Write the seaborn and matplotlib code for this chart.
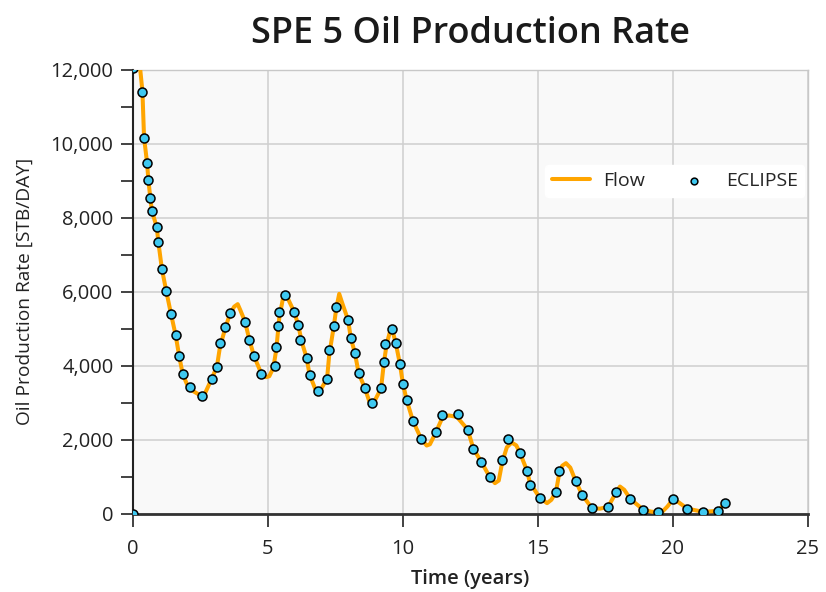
import matplotlib
matplotlib.use("Agg")
import matplotlib.pyplot as plt
import matplotlib.ticker as mticker
import seaborn as sns
import pandas as pd

# ECLIPSE reference points (time in years, oil rate in STB/DAY)
eclipse_t = [0.0, 0.01, 0.35, 0.41, 0.52, 0.57, 0.64, 0.70, 0.88, 0.94, 1.07, 1.23,
             1.41, 1.58, 1.71, 1.84, 2.10, 2.57, 2.91, 3.11, 3.22, 3.41, 3.59, 4.15,
             4.31, 4.48, 4.76, 5.26, 5.31, 5.38, 5.42, 5.63, 5.97, 6.12, 6.19, 6.43,
             6.54, 6.84, 7.19, 7.27, 7.44, 7.53, 7.97, 8.07, 8.22, 8.36, 8.59, 8.84,
             9.19, 9.29, 9.34, 9.59, 9.73, 9.89, 10.0, 10.14, 10.37, 10.67, 11.22, 11.46,
             12.05, 12.40, 12.61, 12.91, 13.22, 13.68, 13.88, 14.34, 14.60, 14.70, 15.06,
             15.67, 15.78, 16.40, 16.64, 17.0, 17.6, 17.91, 18.43, 18.9, 19.46, 20.01,
             20.53, 21.12, 21.68, 21.93]
eclipse_rate = [0, 12050, 11415, 10171, 9496, 9028, 8550, 8190, 7750, 7344, 6622, 6030,
                5398, 4830, 4271, 3784, 3433, 3190, 3641, 3982, 4630, 5063, 5433, 5198,
                4711, 4271, 3784, 3990, 4510, 5070, 5460, 5911, 5460, 5117, 4703, 4225,
                3766, 3316, 3657, 4424, 5073, 5603, 5235, 4749, 4352, 3803, 3397, 2990,
                3390, 4115, 4600, 4992, 4631, 4046, 3514, 3073, 2514, 2036, 2225, 2676,
                2711, 2279, 1760, 1397, 992, 1468, 2036, 1641, 1162, 792, 441,
                595, 1162, 884, 514, 154, 189, 595, 397, 116, 54, 397,
                143, 54, 81, 289]

# Flow simulator curve
flow_t = [0.20, 0.27, 0.35, 0.41, 0.52, 0.57, 0.64, 0.70, 0.88, 0.94, 1.07, 1.23,
          1.41, 1.58, 1.71, 1.84, 2.0, 2.2, 2.5, 2.65, 2.91, 3.11, 3.22, 3.41, 3.59,
          3.75, 3.88, 3.98, 4.15, 4.31, 4.48, 4.76, 4.93, 5.05, 5.2, 5.31, 5.42, 5.55,
          5.63, 5.75, 5.97, 6.12, 6.25, 6.43, 6.54, 6.75, 6.84, 6.95, 7.19, 7.27, 7.44,
          7.53, 7.64, 7.75, 7.97, 8.07, 8.22, 8.36, 8.59, 8.75, 8.84, 8.95, 9.19, 9.29,
          9.4, 9.55, 9.65, 9.73, 9.89, 10.0, 10.14, 10.37, 10.67, 10.88, 11.0, 11.22,
          11.46, 11.7, 12.0, 12.40, 12.61, 12.91, 13.22, 13.41, 13.55, 13.68, 13.85,
          14.03, 14.2, 14.34, 14.60, 14.70, 15.06, 15.34, 15.5, 15.67, 15.78, 15.9,
          16.04, 16.2, 16.40, 16.64, 17.0, 17.3, 17.6, 17.91, 18.04, 18.2, 18.43, 18.9,
          19.2, 19.58, 19.8, 20.01, 20.2, 20.53, 21.12, 21.68, 21.93]
flow_rate = [13500, 12000, 11415, 10171, 9496, 9028, 8550, 8190, 7750, 7344, 6622, 6030,
             5398, 4830, 4271, 3784, 3500, 3330, 3200, 3230, 3641, 3982, 4500, 5000, 5400,
             5600, 5668, 5500, 5198, 4711, 4271, 3784, 3695, 3720, 3950, 4450, 5300, 5800,
             5920, 5800, 5460, 5117, 4650, 4225, 3766, 3380, 3316, 3350, 3657, 4300, 5073,
             5550, 5947, 5700, 5235, 4749, 4352, 3803, 3397, 3050, 2990, 3050, 3390, 4050,
             4600, 5000, 4850, 4631, 4046, 3514, 3073, 2514, 2036, 1846, 1880, 2200,
             2600, 2660, 2620, 2279, 1760, 1397, 992, 830, 900, 1400, 1800,
             1927, 1850, 1641, 1162, 850, 441, 289, 380, 600, 1050, 1300,
             1370, 1250, 884, 514, 154, 140, 189, 595, 738, 650, 397, 116,
             60, 35, 200, 397, 320, 143, 54, 81, 289]

flow_df = pd.DataFrame({"t": flow_t, "rate": flow_rate})
ecl_df = pd.DataFrame({"t": eclipse_t, "rate": eclipse_rate})

sns.set_theme(style="whitegrid")
plt.rcParams['font.family'] = ['Open Sans', 'DejaVu Sans']

fig = plt.figure(figsize=(8.26, 5.92), dpi=100)
ax = fig.add_axes([0.161, 0.132, 0.817, 0.750])
ax.set_facecolor('#f9f9f9')

sns.lineplot(data=flow_df, x="t", y="rate", ax=ax, sort=False, color='#FFA500',
             linewidth=2.9, label='Flow', zorder=3)
sns.scatterplot(data=ecl_df, x="t", y="rate", ax=ax, color='#3ec8f0', edgecolor='black',
                linewidth=1.1, s=42, label='ECLIPSE', zorder=4)

ax.set_xlim(0, 25)
ax.set_ylim(0, 12000)
ax.xaxis.set_major_locator(mticker.MultipleLocator(5))
ax.yaxis.set_major_locator(mticker.MultipleLocator(2000))
ax.yaxis.set_minor_locator(mticker.MultipleLocator(1000))
ax.yaxis.set_major_formatter(mticker.StrMethodFormatter('{x:,.0f}'))

ax.grid(True, which='major', color='#cfcfcf', linewidth=1.1)
ax.grid(False, which='minor')
ax.tick_params(axis='both', which='both', direction='out', length=9, width=1.2,
               color='#222222', labelsize=14.5, labelcolor='#222222', pad=5)
ax.tick_params(axis='x', bottom=True, pad=9)
ax.tick_params(axis='y', left=True, which='both')

for side in ['top', 'right']:
    ax.spines[side].set_color('#c8c8c8')
    ax.spines[side].set_linewidth(1.0)
ax.spines['left'].set_color('#222222')
ax.spines['left'].set_linewidth(1.5)
ax.spines['bottom'].set_color('#333333')
ax.spines['bottom'].set_linewidth(2.0)

ax.set_title('SPE 5 Oil Production Rate', fontsize=26, fontweight='semibold',
             pad=19, color='#1a1a1a')
ax.set_xlabel('Time (years)', fontsize=14.5, fontweight='semibold', color='#222222',
              labelpad=7)
ax.set_ylabel('Oil Production Rate [STB/DAY]', fontsize=13.8, color='#222222', labelpad=12)

leg = ax.legend(loc='center right', bbox_to_anchor=(0.995, 0.749), ncol=2, frameon=True,
                fontsize=14, handlelength=2.0, columnspacing=1.5, handletextpad=0.65,
                borderpad=0.35, borderaxespad=0.0, markerscale=0.75)
leg.get_frame().set_facecolor('white')
leg.get_frame().set_edgecolor('white')
leg.get_frame().set_alpha(1.0)

fig.savefig('out.png', dpi=100)
